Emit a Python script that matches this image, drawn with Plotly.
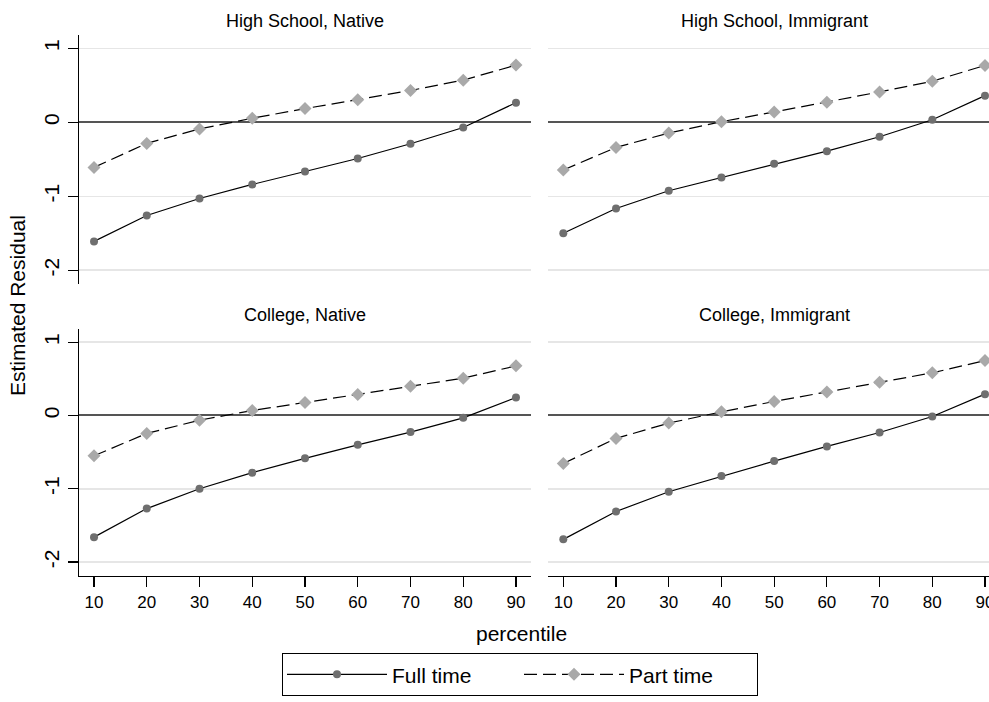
import plotly.graph_objects as go

# ---------------- data ----------------
percentiles = [10, 20, 30, 40, 50, 60, 70, 80, 90]
x_tick_labels = ["10", "20", "30", "40", "50", "60", "70", "80", "90"]
y_tick_values = [-2, -1, 0, 1]
y_tick_labels = ["-2", "-1", "0", "1"]

panel_titles = ["High School, Native", "High School, Immigrant",
                "College, Native", "College, Immigrant"]

full_hs_native = [-1.61, -1.26, -1.03, -0.84, -0.665, -0.49, -0.29, -0.07, 0.265]
part_hs_native = [-0.61, -0.285, -0.09, 0.055, 0.185, 0.305, 0.43, 0.57, 0.773]

full_hs_immigrant = [-1.50, -1.165, -0.925, -0.745, -0.56, -0.39, -0.195, 0.035, 0.36]
part_hs_immigrant = [-0.645, -0.34, -0.145, 0.008, 0.14, 0.27, 0.41, 0.555, 0.768]

full_col_native = [-1.66, -1.27, -1.0, -0.78, -0.585, -0.40, -0.227, -0.032, 0.245]
part_col_native = [-0.55, -0.245, -0.064, 0.068, 0.177, 0.286, 0.40, 0.509, 0.677]

full_col_immigrant = [-1.69, -1.31, -1.04, -0.826, -0.622, -0.422, -0.232, -0.014, 0.291]
part_col_immigrant = [-0.654, -0.313, -0.104, 0.05, 0.191, 0.322, 0.454, 0.582, 0.749]

series_names = ["Full time", "Part time"]

full_series = [full_hs_native, full_hs_immigrant, full_col_native, full_col_immigrant]
part_series = [part_hs_native, part_hs_immigrant, part_col_native, part_col_immigrant]

# ---------------- style ----------------
FONT = "Liberation Sans, Arial, Helvetica, sans-serif"
FULL_MARKER = "#6f6f6f"
PART_MARKER = "#a9a9a9"
GRID = "#e6e6e6"
ZERO = "#555555"

fig = go.Figure()

for i in range(4):
    ax = "" if i == 0 else str(i + 1)
    fig.add_trace(go.Scatter(
        x=percentiles, y=full_series[i], name=series_names[0],
        mode="lines+markers",
        line=dict(color="black", width=1.2),
        marker=dict(symbol="circle", size=8, color=FULL_MARKER),
        xaxis="x" + ax, yaxis="y" + ax,
        showlegend=(i == 0), legendgroup="full", cliponaxis=False,
    ))
    fig.add_trace(go.Scatter(
        x=percentiles, y=part_series[i], name=series_names[1],
        mode="lines+markers",
        line=dict(color="black", width=1.2, dash="13px,6px"),
        marker=dict(symbol="diamond", size=10, color=PART_MARKER),
        xaxis="x" + ax, yaxis="y" + ax,
        showlegend=(i == 0), legendgroup="part", cliponaxis=False,
    ))

# pixel geometry helpers (figure 989 x 702)
W, H = 989, 702
L, R, T, B = 79, 0, 35, 126
PW, PH = W - L - R, H - T - B


def px_x(p):
    return (p - L) / PW


def px_y(p):
    return (H - B - p) / PH


x_dom_left = [0, px_x(531)]
x_dom_right = [px_x(548.3), 1]
y_dom_top = [px_y(284.3), 1]
y_dom_bot = [0, px_y(329)]

x_range_left = [7.15, 92.85]
x_range_right = [7.15, 90.76]
y_range = [-2.19, 1.18]


def xaxis(dom, rng, anchor, bottom):
    d = dict(domain=dom, range=rng, anchor=anchor, showgrid=False,
             zeroline=False, fixedrange=True)
    if bottom:
        d.update(showline=True, linecolor="black", linewidth=1.2,
                 ticks="outside", ticklen=10, tickwidth=1.2, tickcolor="black",
                 tickvals=percentiles, ticktext=x_tick_labels,
                 ticklabeloverflow="allow",
                 tickfont=dict(family=FONT, size=17, color="black"))
    else:
        d.update(showline=False, showticklabels=False, ticks="")
    return d


def yaxis(dom, anchor, left):
    d = dict(domain=dom, range=y_range, anchor=anchor, showgrid=True,
             gridcolor=GRID, gridwidth=1.5, zeroline=True, zerolinecolor=ZERO,
             zerolinewidth=2, tickvals=y_tick_values, fixedrange=True)
    if left:
        d.update(showline=True, linecolor="black", linewidth=1.2,
                 ticks="outside", ticklen=10, tickwidth=1.2, tickcolor="black",
                 ticktext=y_tick_labels, tickangle=-90,
                 tickfont=dict(family=FONT, size=21, color="black"))
    else:
        d.update(showline=False, showticklabels=False, ticks="")
    return d


fig.update_layout(
    width=W, height=H,
    margin=dict(l=L, r=R, t=T, b=B, autoexpand=False),
    paper_bgcolor="white", plot_bgcolor="white",
    font=dict(family=FONT, color="black"),
    hovermode=False,
    xaxis=xaxis(x_dom_left, x_range_left, "y", False),
    yaxis=yaxis(y_dom_top, "x", True),
    xaxis2=xaxis(x_dom_right, x_range_right, "y2", False),
    yaxis2=yaxis(y_dom_top, "x2", False),
    xaxis3=xaxis(x_dom_left, x_range_left, "y3", True),
    yaxis3=yaxis(y_dom_bot, "x3", True),
    xaxis4=xaxis(x_dom_right, x_range_right, "y4", True),
    yaxis4=yaxis(y_dom_bot, "x4", False),
    showlegend=True,
    legend=dict(
        orientation="h", x=px_x(520), xanchor="center", y=px_y(653), yanchor="top",
        bordercolor="black", borderwidth=1.2, bgcolor="white",
        font=dict(family=FONT, size=21, color="black"),
        entrywidth=122, itemwidth=100,
    ),
)

title_pos = [(305, 21), (774, 21), (305, 315), (774, 315)]
for t, (px, py) in zip(panel_titles, title_pos):
    fig.add_annotation(text=t, x=px_x(px), y=px_y(py), xref="paper", yref="paper",
                       xanchor="center", yanchor="middle", showarrow=False,
                       font=dict(family=FONT, size=18, color="black"))

fig.add_annotation(text="percentile", x=px_x(521), y=px_y(633), xref="paper", yref="paper",
                   xanchor="center", yanchor="middle", showarrow=False,
                   font=dict(family=FONT, size=21, color="black"))
fig.add_annotation(text="Estimated Residual", x=px_x(17), y=px_y(306), xref="paper", yref="paper",
                   xanchor="center", yanchor="middle", showarrow=False, textangle=-90,
                   font=dict(family=FONT, size=21, color="black"))

fig.write_html(
    "out.html",
    config={"displayModeBar": False, "staticPlot": True},
    post_script="document.body.style.margin='0';document.body.style.overflow='hidden';",
)
